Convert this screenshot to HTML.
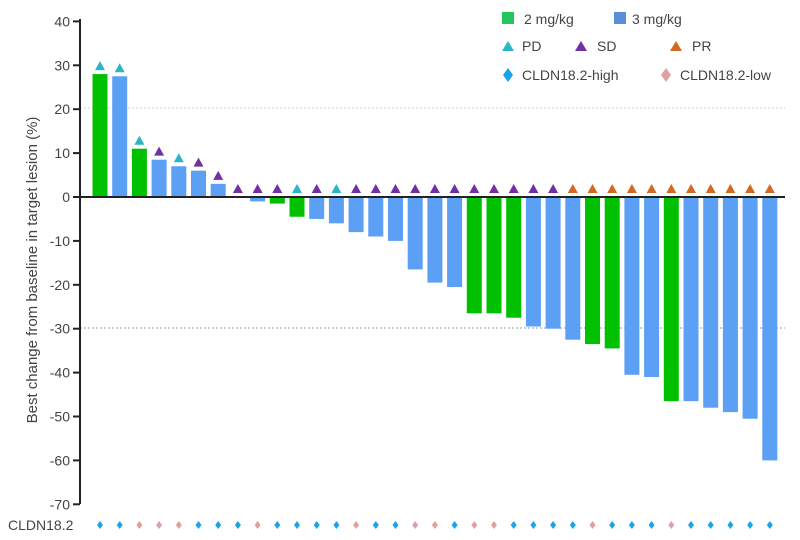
<!DOCTYPE html>
<html><head><meta charset="utf-8"><style>
html,body{margin:0;padding:0;background:#fff;}
svg{display:block;font-family:"Liberation Sans",sans-serif;}
</style></head><body>
<svg id="c" width="800" height="540" viewBox="0 0 800 540" xmlns="http://www.w3.org/2000/svg">
<rect width="800" height="540" fill="#fff"/>
<line x1="80" y1="108" x2="785" y2="108" stroke="#ccc" stroke-width="1" stroke-dasharray="2,2"/>
<line x1="80" y1="328" x2="785" y2="328" stroke="#999" stroke-width="1" stroke-dasharray="2,2"/>
<g id="bars"></g>
<line x1="80" y1="197" x2="785" y2="197" stroke="#222" stroke-width="2"/>
<line x1="80" y1="19" x2="80" y2="504" stroke="#222" stroke-width="2"/>
<g id="ticks" font-size="14" fill="#444" text-anchor="end"></g>
<text transform="translate(37,270) rotate(-90)" text-anchor="middle" font-size="15" fill="#444">Best change from baseline in target lesion (%)</text>
<text x="8" y="530" font-size="14" fill="#444">CLDN18.2</text>
<g font-size="14" fill="#444">
<rect x="502" y="12" width="12" height="12" fill="#22c55e"/><text x="524" y="24">2 mg/kg</text>
<rect x="614" y="12" width="12" height="12" fill="#5a8fd8"/><text x="632" y="24">3 mg/kg</text>
<polygon points="502,51 508,41 514,51" fill="#2bb5c8"/><text x="522" y="51">PD</text>
<polygon points="575,51 581,41 587,51" fill="#7030a0"/><text x="597" y="51">SD</text>
<polygon points="670,51 676,41 682,51" fill="#d2691e"/><text x="692" y="51">PR</text>
<polygon points="508,68 513,75 508,82 503,75" fill="#1aa3e8"/><text x="522" y="80">CLDN18.2-high</text>
<polygon points="666,68 671,75 666,82 661,75" fill="#e0a0a0"/><text x="680" y="80">CLDN18.2-low</text>
</g>
</svg>
<script>
(function(){
var vals=[28,27.5,11,8.5,7,6,3,0,-1,-1.5,-4.5,-5,-6,-8,-9,-10,-16.5,-19.5,-20.5,-26.5,-26.5,-27.5,-29.5,-30,-32.5,-33.5,-34.5,-40.5,-41,-46.5,-46.5,-48,-49,-50.5,-60];
var green=[0,2,9,10,19,20,21,25,26,29];
var resp="PPPSPSSSSSPSPSSSSSSSSSSSRRRRRRRRRRR";
var cl="bbpppbbbpbbbbpbbppbppbbbbpbbbpbbbbb";
var ns="http://www.w3.org/2000/svg";
var g=document.getElementById("bars");
function Y(v){return 197-v*4.39;}
function el(t,a){var e=document.createElementNS(ns,t);for(var k in a)e.setAttribute(k,a[k]);g.appendChild(e);return e;}
for(var i=0;i<35;i++){
 var cx=100+i*19.7,v=vals[i];
 var col=green.indexOf(i)>=0?"#00c000":"#5ba0f5";
 if(v!=0){var y0=Math.min(Y(v),197),h=Math.abs(Y(v)-197);el("rect",{x:cx-7.5,y:y0,width:15,height:h,fill:col});}
 var tp=Math.min(Y(v),197)-4;
 var tc=resp[i]=="P"?"#2bb5c8":resp[i]=="S"?"#7030a0":"#d2691e";
 el("polygon",{points:(cx-5)+","+tp+" "+cx+","+(tp-9)+" "+(cx+5)+","+tp,fill:tc});
 var dc=cl[i]=="b"?"#1aa3e8":"#e0a0a0",dy=525;
 el("polygon",{points:cx+","+(dy-4)+" "+(cx+3)+","+dy+" "+cx+","+(dy+4)+" "+(cx-3)+","+dy,fill:dc});
}
var t=document.getElementById("ticks");
for(var v=40;v>=-70;v-=10){
 var y=Y(v);
 var tx=document.createElementNS(ns,"text");tx.setAttribute("x",70);tx.setAttribute("y",y+5);tx.textContent=v;t.appendChild(tx);
 var l=document.createElementNS(ns,"line");l.setAttribute("x1",73);l.setAttribute("x2",80);l.setAttribute("y1",y);l.setAttribute("y2",y);l.setAttribute("stroke","#222");l.setAttribute("stroke-width","2");t.appendChild(l);
}
})();
</script>
</body></html>
